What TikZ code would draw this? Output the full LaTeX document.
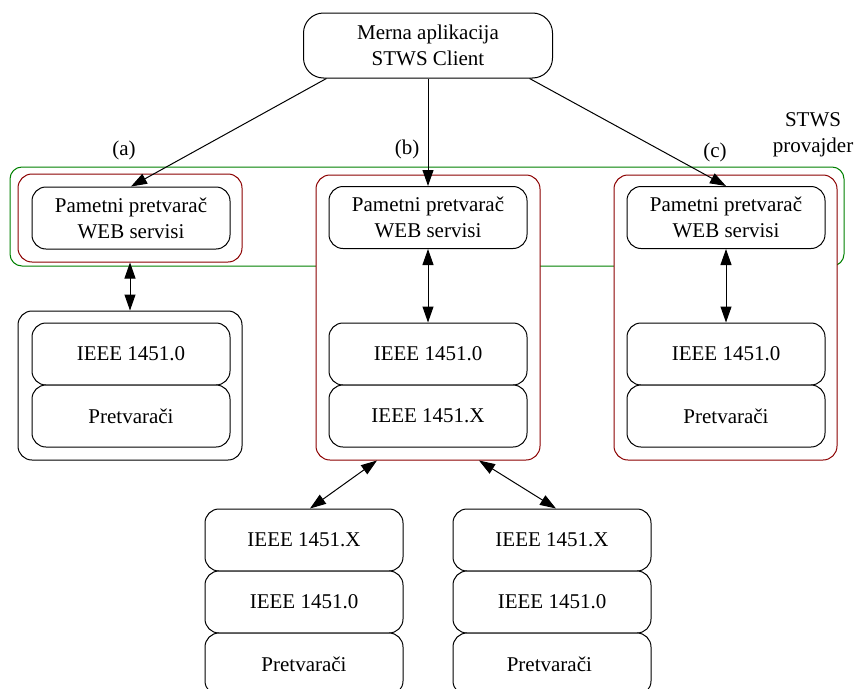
\documentclass[tikz,border=0pt]{standalone}
\usepackage{fontspec}
\setmainfont{Liberation Serif}
\usetikzlibrary{calc, positioning}
\usetikzlibrary{arrows.meta}
\definecolor{provGreen}{RGB}{0,128,0}
\definecolor{boxRed}{RGB}{139,0,0}

\begin{document}
\begin{tikzpicture}[x=1pt, y=-1pt,
    font=\fontsize{21}{26}\selectfont,
    layerBox/.style={draw, line width=1pt, rounded corners=14pt, fill=white,
        minimum width=198pt, minimum height=62pt, inner sep=0pt, align=center},
    redBox/.style={draw=boxRed, line width=1pt, rounded corners=14pt, fill=white, inner sep=0pt},
    outerBox/.style={draw, line width=1pt, rounded corners=14pt, fill=white, inner sep=0pt},
    conn/.style={line width=1pt, -{Triangle[length=16pt,width=11pt]}},
    biConn/.style={line width=1pt, {Triangle[length=16pt,width=11pt]}-{Triangle[length=16pt,width=11pt]}}]
        \useasboundingbox (0,0) rectangle (856,688);
        \clip (0,0) rectangle (856,688);
        % provajder
        \draw[provGreen, line width=1pt, rounded corners=12pt] (10,167) rectangle (844,266);
        \node[align=center] (lProv) at (813,135) {STWS\\provajder};
        \node (lA) at (124,150) {(a)};
        \node (lB) at (407,149) {(b)};
        \node (lC) at (715,152) {(c)};

        \node[layerBox, minimum width=249pt, minimum height=65pt, rounded corners=20pt]
            (client) at (428,45.5) {Merna aplikacija\\STWS Client};

        % containers
        \node[redBox, minimum width=224pt, minimum height=88pt] (rA) at (130,218) {};
        \node[redBox, minimum width=224pt, minimum height=285pt] (rB) at (428,317.5) {};
        \node[redBox, minimum width=223pt, minimum height=285pt] (rC) at (725.5,317.5) {};
        \node[outerBox, minimum width=224pt, minimum height=149pt] (kA) at (130,385.5) {};

        \foreach \v/\x/\y/\t in
       {pA/131/218/{Pametni pretvarač\\WEB servisi},
        pB/428/217.5/{Pametni pretvarač\\WEB servisi},
        pC/726/217.5/{Pametni pretvarač\\WEB servisi},
        iA/131/354/{IEEE 1451.0},
        tA/131/416/{Pretvarači},
        iB/428/354/{IEEE 1451.0},
        xB/428/416/{IEEE 1451.X},
        iC/726/354/{IEEE 1451.0},
        tC/726/416/{Pretvarači},
        xL/304/540/{IEEE 1451.X},
        iL/304/602/{IEEE 1451.0},
        tL/304/664/{Pretvarači},
        xR/552/540/{IEEE 1451.X},
        iR/552/602/{IEEE 1451.0},
        tR/552/664/{Pretvarači}
        }
        {
            \node[layerBox] (\v) at (\x,\y) {\t};
        };

        % connectors
        \draw[conn] (client.198) -- (pA.north);
        \draw[conn] (client.south) -- (pB.north);
        \draw[conn] (client.-18) -- (pC.north);
        \draw[biConn] (rA.south) -- (kA.north);
        \draw[biConn] (pB.south) -- (iB.north);
        \draw[biConn] (pC.south) -- (iC.north);
        \draw[biConn] ([xshift=-51pt]rB.south) -- ([xshift=6pt]xL.north);
        \draw[biConn] ([xshift=51pt]rB.south) -- ([xshift=4pt]xR.north);
    \end{tikzpicture}
\end{document}
